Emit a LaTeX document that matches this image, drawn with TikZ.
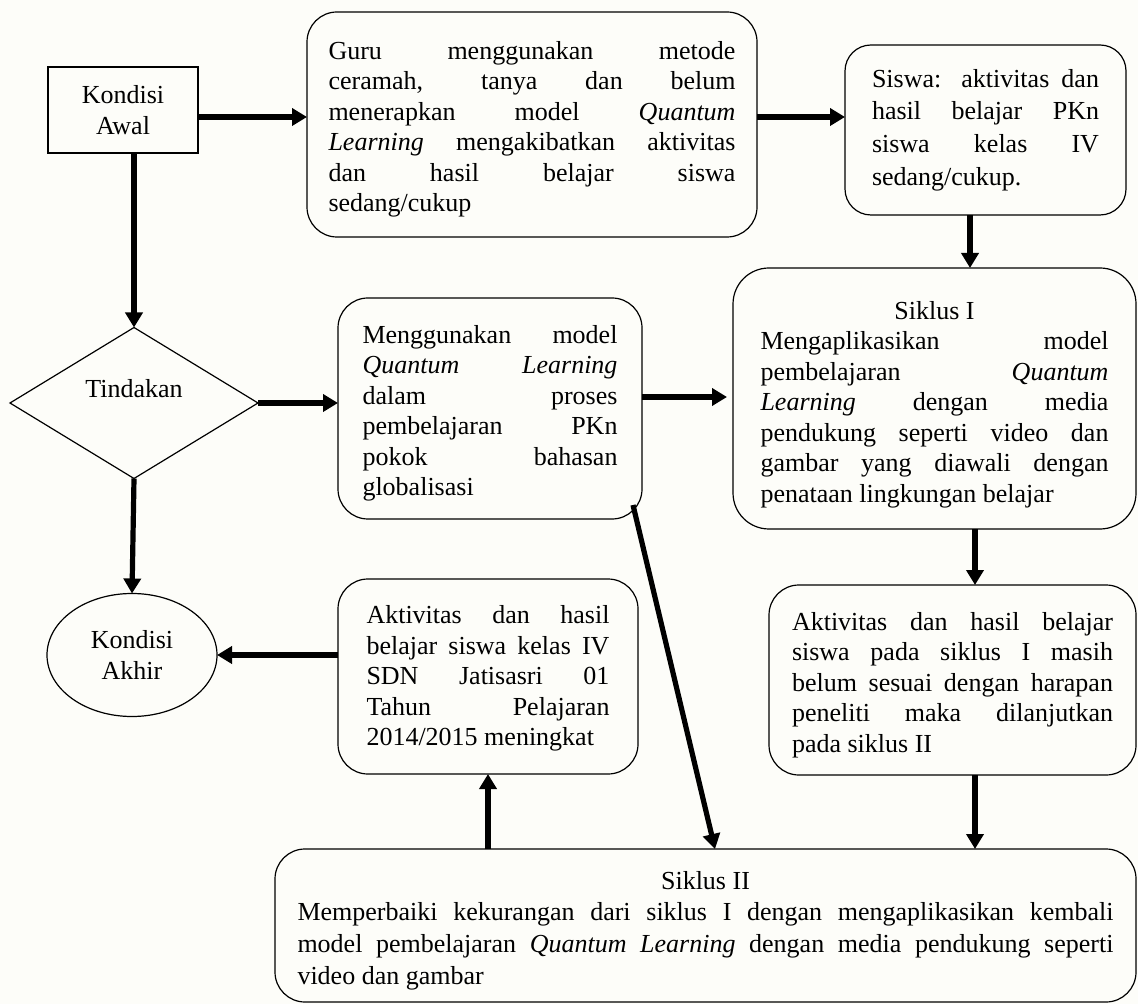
\documentclass[tikz,border=0pt]{standalone}
\usepackage{fontspec}
\setmainfont{Liberation Serif}
\usepackage{xcolor}
\usepackage{tikz}
\usetikzlibrary{shapes.geometric,arrows.meta}
\definecolor{paper}{RGB}{253,253,249}
\newcommand{\fullline}[1]{\leavevmode\hbox to \linewidth{\spaceskip=0pt\xspaceskip=0pt #1}}
\newcommand{\midline}[1]{\leavevmode\hbox to \linewidth{\hfil #1\hfil}}
\tikzset{
  every node/.style={font=\fontsize{13}{15.25}\selectfont, inner sep=0pt, outer sep=0pt},
  plainbox/.style={draw, line width=0.6pt, rectangle, align=center},
  roundbox/.style={draw, line width=0.6pt, rectangle, rounded corners=15pt, align=justify},
  choice/.style={draw, line width=0.6pt, diamond, align=center},
  endbox/.style={draw, line width=0.6pt, ellipse, align=center},
  arr/.style={line width=2.6pt, -{Triangle[length=7.5pt,width=8.5pt]}},
}
\begin{document}
\begin{tikzpicture}[x=0.5pt,y=-0.5pt]
  \fill[paper] (0,0) rectangle (1138,1004);
  \useasboundingbox (0,0) rectangle (1138,1004);
  \coordinate (rowa) at (0,117);
  \coordinate (rowb) at (0,397);
  \coordinate (cola) at (970,0);
  \coordinate (colb) at (975,0);
  \node[plainbox, minimum width=75pt, minimum height=43pt] (awal) at (123,110) {Kondisi\\Awal};
  \node[roundbox, minimum width=225pt, minimum height=112.5pt, text width=203.5pt, text height=14pt] (guru) at (532,124.5)
    {\fullline{Guru menggunakan metode}\\
     \fullline{ceramah, tanya dan belum}\\
     \fullline{menerapkan model \textit{Quantum}}\\
     \fullline{\textit{Learning} mengakibatkan aktivitas}\\
     \fullline{dan hasil belajar siswa}\\
     sedang/cukup};
  \node[roundbox, rounded corners=13pt, minimum width=140.5pt, minimum height=85pt, text width=113.5pt,
    font=\fontsize{13}{16.4}\selectfont] (siswa) at (985.5,130)
    {\fullline{Siswa: aktivitas dan}\\
     \fullline{hasil belajar PKn}\\
     \fullline{siswa kelas IV}\\
     sedang/cukup.};
  \node[choice, minimum width=124pt, minimum height=75.5pt, text depth=15pt] (tindakan) at (134,403) {Tindakan};
  \node[roundbox, minimum width=152pt, minimum height=110.5pt, text width=127.5pt, text height=14pt] (mengg) at (490,408.5)
    {\fullline{Menggunakan model}\\
     \fullline{\textit{Quantum} \textit{Learning}}\\
     \fullline{dalam proses}\\
     \fullline{pembelajaran PKn}\\
     \fullline{pokok bahasan}\\
     globalisasi};
  \node[roundbox, rounded corners=18pt, minimum width=201.5pt, minimum height=130.5pt, text width=174pt, text height=15pt] (siklusa) at (934.5,398.5)
    {\midline{Siklus I}\\
     \fullline{Mengaplikasikan model}\\
     \fullline{pembelajaran \textit{Quantum}}\\
     \fullline{\textit{Learning} dengan media}\\
     \fullline{pendukung seperti video dan}\\
     \fullline{gambar yang diawali dengan}\\
     penataan lingkungan belajar};
  \node[endbox, minimum width=85pt, minimum height=61.5pt] (akhir) at (132,655) {Kondisi\\Akhir};
  \node[roundbox, minimum width=150pt, minimum height=97.5pt, text width=121.5pt, text height=11pt] (hasila) at (488,676.5)
    {\fullline{Aktivitas dan hasil}\\
     \fullline{belajar siswa kelas IV}\\
     \fullline{SDN Jatisasri 01}\\
     \fullline{Tahun Pelajaran}\\
     2014/2015 meningkat};
  \node[roundbox, minimum width=183.5pt, minimum height=95pt, text width=160.5pt, text height=14pt] (hasilb) at (952.5,680)
    {\fullline{Aktivitas dan hasil belajar}\\
     \fullline{siswa pada siklus I masih}\\
     \fullline{belum sesuai dengan harapan}\\
     \fullline{peneliti maka dilanjutkan}\\
     pada siklus II};
  \node[roundbox, minimum width=430.5pt, minimum height=76.5pt, text width=408pt, text height=14pt,
    font=\fontsize{13}{15.8}\selectfont] (siklusb) at (705.5,925.5)
    {\midline{Siklus II}\\
     \fullline{Memperbaiki kekurangan dari siklus I dengan mengaplikasikan kembali}\\
     \fullline{model pembelajaran \textit{Quantum Learning} dengan media pendukung seperti}\\
     video dan gambar};
  \draw[arr] (awal.east |- rowa) -- (guru.west |- rowa);
  \draw[arr] (guru.east |- rowa) -- (siswa.west |- rowa);
  \draw[arr] (siswa.south -| cola) -- (siklusa.north -| cola);
  \draw[arr] (awal.south -| tindakan.north) -- (tindakan.north);
  \draw[arr] (tindakan.east) -- (mengg.west |- tindakan.east);
  \draw[arr, shorten >=3pt] (mengg.east |- rowb) -- (siklusa.west |- rowb);
  \draw[arr] (tindakan.south) -- (akhir.north);
  \draw[arr] (hasila.west |- akhir.east) -- (akhir.east);
  \draw[arr] (siklusa.south -| colb) -- (hasilb.north -| colb);
  \draw[arr] (hasilb.south -| colb) -- (siklusb.north -| colb);
  \draw[arr] (siklusb.north -| hasila.south) -- (hasila.south);
  \draw[arr] ([xshift=-4.5pt,yshift=7pt]mengg.south east) -- ([xshift=4.75pt]siklusb.north);
\end{tikzpicture}
\end{document}
